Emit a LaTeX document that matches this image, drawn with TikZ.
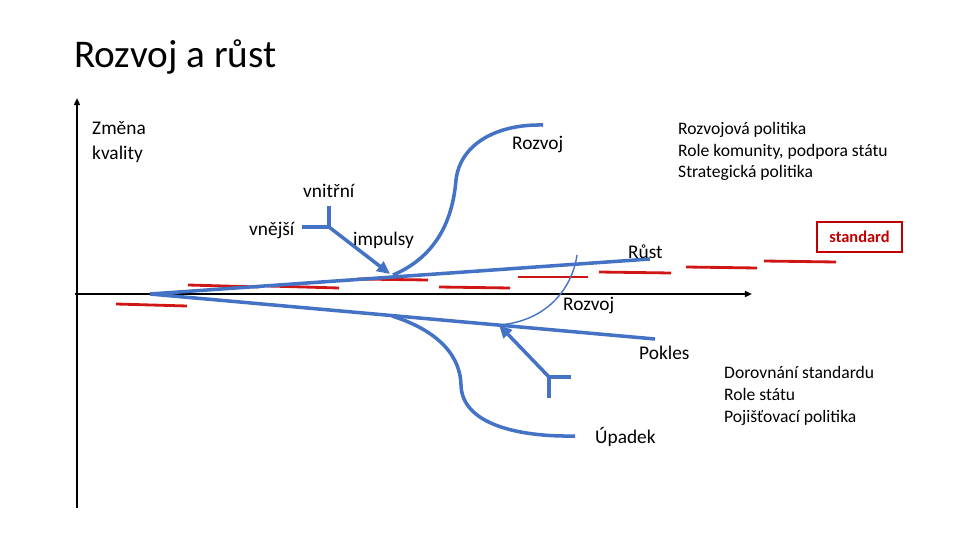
\documentclass[tikz,border=0pt]{standalone}
\usepackage{fontspec}
\setmainfont{Carlito}
\usetikzlibrary{arrows.meta}
\definecolor{lineblue}{HTML}{4472C4}
\definecolor{dashred}{HTML}{D01515}
\definecolor{boxred}{HTML}{C00000}
\begin{document}
\begin{tikzpicture}[x=0.03cm, y=-0.03cm,
    lbl/.style={anchor=base west, inner sep=0pt, font=\fontsize{16.5}{20}\selectfont},
    note/.style={anchor=base west, inner sep=0pt, align=left, font=\fontsize{15}{18.5}\selectfont},
    trend/.style={lineblue, line width=3pt},
    gap/.style={dashred, line width=2.4pt},
    push/.style={lineblue, line width=3pt, -{Triangle[length=11pt,width=10pt]}},
    axis/.style={black, line width=1.6pt, -{Triangle[length=6pt,width=5pt]}}]
    \useasboundingbox (0,0) rectangle (960,540);
    % Title
    \node[anchor=base west, inner sep=0pt, font=\fontsize{33.5}{40}\selectfont] (title) at (74,68) {Rozvoj a růst};
    % Axes
    \draw[axis] (77,508) -- (77,98);
    \draw[axis] (75,294) -- (752,294);
    \node[anchor=base west, inner sep=0pt, align=left, font=\fontsize{16.5}{22}\selectfont] (kvalita) at (92,160) {Změna\\kvality};
    % Standard (red dashes)
    \foreach \xa/\ya/\xb/\yb in {116/304/187/306, 188/285/259/287, 268/286/339/288,
        357/279/428/280, 439/287/510/288, 518/277/588/277, 599/272/671/273,
        686/267/757/268, 764/261/836/262}
        \draw[gap] (\xa,\ya) -- (\xb,\yb);
    \node[draw=boxred, line width=1.6pt, text=boxred, inner sep=0pt,
        minimum width=2.55cm, minimum height=0.9cm,
        font=\bfseries\fontsize{14}{16}\selectfont] (standard) at (859.5,237) {standard};
    % Growth and decline
    \coordinate (start) at (150,294);
    \coordinate (rustend) at (650,259);
    \coordinate (poklesend) at (655,339);
    \draw[trend] (start) -- (rustend);
    \draw[trend] (start) -- (poklesend);
    \node[lbl] (rust) at (628,258) {Růst};
    \node[lbl] (pokles) at (639,359) {Pokles};
    % Development (upper S)
    \draw[trend] (393,275) .. controls (440,255) and (453,215) .. (456,180)
        .. controls (460,145) and (495,124) .. (543,125);
    \node[lbl] (rozvojtop) at (512,150) {Rozvoj};
    % Decay (lower S)
    \draw[trend] (392,316) .. controls (430,328) and (460,350) .. (461,385)
        .. controls (462,425) and (520,437) .. (575,436);
    \node[lbl] (upadek) at (595,443) {Úpadek};
    % Thin turn back
    \draw[lineblue, line width=1.2pt] (577,255) .. controls (572,290) and (545,322) .. (498,325);
    \node[lbl] (rozvojlow) at (563,310) {Rozvoj};
    % Impulses
    \coordinate (fork1) at (329,227);
    \coordinate (tip1) at (390,274);
    \draw[trend] (fork1) -- (329,206);
    \draw[trend] (fork1) -- (302,227);
    \draw[push] (fork1) -- (tip1);
    \node[lbl] (vnitrni) at (303,197) {vnitřní};
    \node[lbl] (vnejsi) at (249,235) {vnější};
    \node[lbl] (impulsy) at (353,245) {impulsy};
    \coordinate (fork2) at (549,377);
    \coordinate (tip2) at (499,325);
    \draw[trend] (fork2) -- (571,377);
    \draw[trend] (fork2) -- (549,398);
    \draw[push] (fork2) -- (tip2);
    % Policies
    \node[note] (politika1) at (678,178) {Rozvojová politika\\Role komunity, podpora státu\\Strategická politika};
    \node[note] (politika2) at (724,422) {Dorovnání standardu\\Role státu\\Pojišťovací politika};
\end{tikzpicture}
\end{document}
